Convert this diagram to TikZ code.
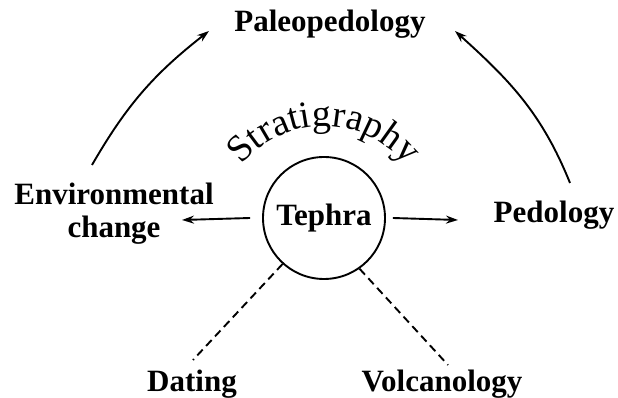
\documentclass[tikz,border=0pt]{standalone}
\usepackage{fontspec}
\setmainfont{Liberation Serif}
\usetikzlibrary{arrows.meta,decorations.text}
\begin{document}
\begin{tikzpicture}[x=1pt,y=1pt,
  lbl/.style={font=\bfseries\fontsize{31}{33}\selectfont, inner sep=0pt},
  arr/.style={line width=1.9pt, -{Stealth[length=12pt,width=8pt]}},
  dsh/.style={line width=1.9pt, dash pattern=on 8pt off 5pt}]
\useasboundingbox (0,0) rectangle (618,398);
% nodes
\node[draw, circle, minimum size=122pt, inner sep=0pt, line width=1.9pt,
      font=\bfseries\fontsize{31}{33}\selectfont] (teph) at (324,180) {Tephra};
\node[lbl, anchor=base] (pal) at (330,366) {Paleopedology};
\node[lbl, anchor=north, align=center] (env) at (114,215) {Environmental\\change};
\node[lbl, anchor=base] (ped) at (554,175) {Pedology};
\node[lbl, anchor=base] (dat) at (192,6) {Dating};
\node[lbl, anchor=base] (vol) at (442,6) {Volcanology};
% free ends
\coordinate (envtip) at (182,178);
\coordinate (pedtail) at (458,178);
\coordinate (envtop) at (92,233);
\coordinate (palL) at (209,367);
\coordinate (pedtop) at (570,215);
\coordinate (palR) at (455,367);
\coordinate (datTop) at (193,38);
\coordinate (volTop) at (448,33);
% connectors
\draw[arr] ([xshift=-12pt]teph.west) -- (envtip);
\draw[arr] ([xshift=7pt]teph.east) -- (pedtail);
\draw[arr] (envtop) to[out=60, in=218] (palL);
\draw[arr] (pedtop) to[out=112, in=318] (palR);
\draw[dsh] (teph.-132) -- (datTop);
\draw[dsh] (teph.-55) -- (volTop);
% curved label
\path[decorate,
   decoration={text along path, text={|\fontsize{38}{38}\selectfont|Stratigraphy}, text align=center}]
   (324,167) ++(145:105) arc[start angle=145, end angle=35, radius=105];
\end{tikzpicture}
\end{document}
